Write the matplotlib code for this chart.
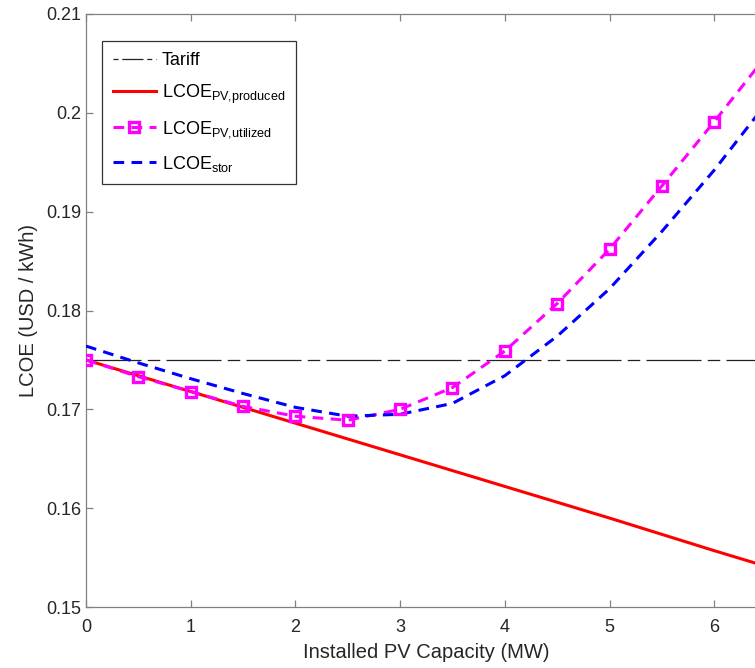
import matplotlib
matplotlib.use("Agg")
import matplotlib.pyplot as plt

# values
x_line = [0, 1, 2, 3, 4, 5, 6, 6.5]
tariff = [0.175] * len(x_line)
lcoe_produced = [0.1750, 0.1718, 0.1686, 0.1654, 0.1622, 0.1590, 0.1557, 0.1541]

x_half = [0, 0.5, 1, 1.5, 2, 2.5, 3, 3.5, 4, 4.5, 5, 5.5, 6, 6.5]
lcoe_utilized = [0.1750, 0.1733, 0.1718, 0.1703, 0.1693, 0.1689, 0.1700,
                 0.1722, 0.1759, 0.1807, 0.1862, 0.1926, 0.1991, 0.2058]
lcoe_stor = [0.1764, 0.1747, 0.1731, 0.1716, 0.1702, 0.1693, 0.1695,
             0.1706, 0.1734, 0.1774, 0.1822, 0.1880, 0.1942, 0.2010]
x_marks = x_half[:-1]
utilized_marks = lcoe_utilized[:-1]

plt.rcParams["font.family"] = ["Liberation Sans", "DejaVu Sans"]
plt.rcParams["mathtext.fontset"] = "custom"
plt.rcParams["mathtext.rm"] = "Liberation Sans"
plt.rcParams["mathtext.it"] = "Liberation Sans"

W, H = 755, 668
fig = plt.figure(figsize=(W / 100, H / 100), dpi=100)
fig.set_facecolor("white")
# axes run past the right edge of the figure (cropped like the reference)
ax = fig.add_axes([86 / W, 61 / H, 6.5 * 104.7 / W, 593 / H])

DASH = (0, (3.5, 2.4))
ax.plot(x_line, tariff, color="#222222", lw=0.9,
        ls=(0, (44, 5, 10, 5)), zorder=2)
ax.plot(x_line, lcoe_produced, color="#ff0000", lw=2.2, zorder=3)
ax.plot(x_half, lcoe_utilized, color="#ff00ff", lw=2.2, ls=DASH, zorder=4)
ax.plot(x_marks, utilized_marks, ls="none", marker="s", ms=7.5, mew=2.4,
        mfc="none", mec="#ff00ff", zorder=5)
ax.plot(x_half, lcoe_stor, color="#0000ff", lw=2.2, ls=DASH, zorder=4)

# legend proxies
h_tar, = ax.plot([], [], color="#222222", lw=0.9, ls=(0, (4, 3, 17, 3)))
h_prod, = ax.plot([], [], color="#ff0000", lw=2.2)
h_util, = ax.plot([], [], color="#ff00ff", lw=2.2, ls=DASH,
                  marker="s", ms=7.5, mew=2.4, mfc="none", mec="#ff00ff")
h_stor, = ax.plot([], [], color="#0000ff", lw=2.2, ls=DASH)
leg = ax.legend([h_tar, h_prod, h_util, h_stor],
                ["Tariff", r"LCOE$_{\mathrm{PV{,}produced}}$",
                 r"LCOE$_{\mathrm{PV{,}utilized}}$", r"LCOE$_{\mathrm{stor}}$"],
                loc="upper left",
                bbox_to_anchor=(16 / 680.6, 1 - 27 / 593), fontsize=13,
                frameon=True, fancybox=False, edgecolor="black",
                handlelength=2.4, handletextpad=0.3, labelspacing=0.75,
                borderpad=0.6, borderaxespad=0)
leg.get_frame().set_linewidth(0.9)

ax.set_xlim(0, 6.5)
ax.set_ylim(0.15, 0.21)
ax.set_xticks([0, 1, 2, 3, 4, 5, 6])
ax.set_yticks([0.15, 0.16, 0.17, 0.18, 0.19, 0.2, 0.21])
ax.set_yticklabels(["0.15", "0.16", "0.17", "0.18", "0.19", "0.2", "0.21"])
ax.tick_params(direction="in", length=5, width=0.9, colors="#808080",
               labelcolor="#262626", labelsize=13, top=True, right=True)
ax.tick_params(axis="x", pad=9)
for s in ax.spines.values():
    s.set_color("#808080")
    s.set_linewidth(0.9)

ax.set_xlabel("Installed PV Capacity (MW)", fontsize=14.5, color="#262626",
              labelpad=5)
ax.set_ylabel("LCOE (USD / kWh)", fontsize=14.5, color="#262626", labelpad=6)

fig.savefig("out.png", dpi=100, facecolor="white")
